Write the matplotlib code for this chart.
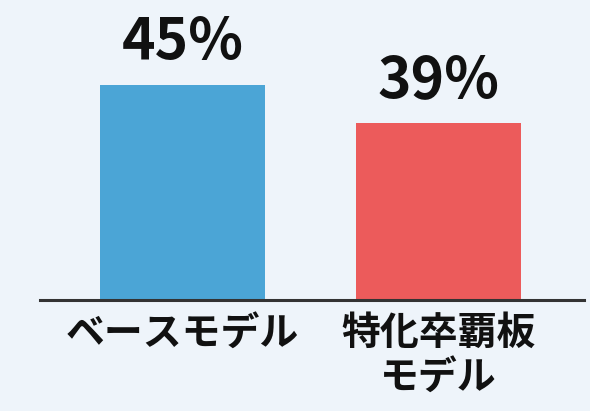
import matplotlib
matplotlib.use("Agg")
import matplotlib.pyplot as plt

categories = ["ベースモデル", "特化卒覇板\nモデル"]
values = [45, 39]
value_labels = ["45%", "39%"]
colors = ["#4ba5d6", "#ec5b5b"]

plt.rcParams['font.family'] = ['Noto Sans CJK JP', 'DejaVu Sans']

fig = plt.figure(figsize=(5.9, 4.11), dpi=100)
bg = "#eef4fa"
fig.patch.set_facecolor(bg)
ax = fig.add_axes([40/590, 1-300/411, 544/590, 300/411])
ax.set_facecolor(bg)

x = list(range(len(categories)))
ax.bar(x, values, width=0.645, color=colors, zorder=2)
ax.set_xlim(-0.557, 1.568)
ax.set_ylim(11, 58.4)

for xi, v, lab in zip(x, values, value_labels):
    ax.text(xi, v + 2.0, lab, ha='center', va='bottom', fontsize=41,
            fontweight='bold', color='#111111')

for s in ['top', 'right', 'left']:
    ax.spines[s].set_visible(False)
ax.spines['bottom'].set_color('#333333')
ax.spines['bottom'].set_linewidth(2.2)
ax.spines['bottom'].set_zorder(3)
ax.set_yticks([])
ax.set_xticks(x)
ax.set_xticklabels(categories, fontsize=28, fontweight='bold', color='#111111',
                   linespacing=1.15)
ax.tick_params(axis='x', length=0, pad=10)

fig.savefig("out.png", dpi=100, facecolor=bg)
